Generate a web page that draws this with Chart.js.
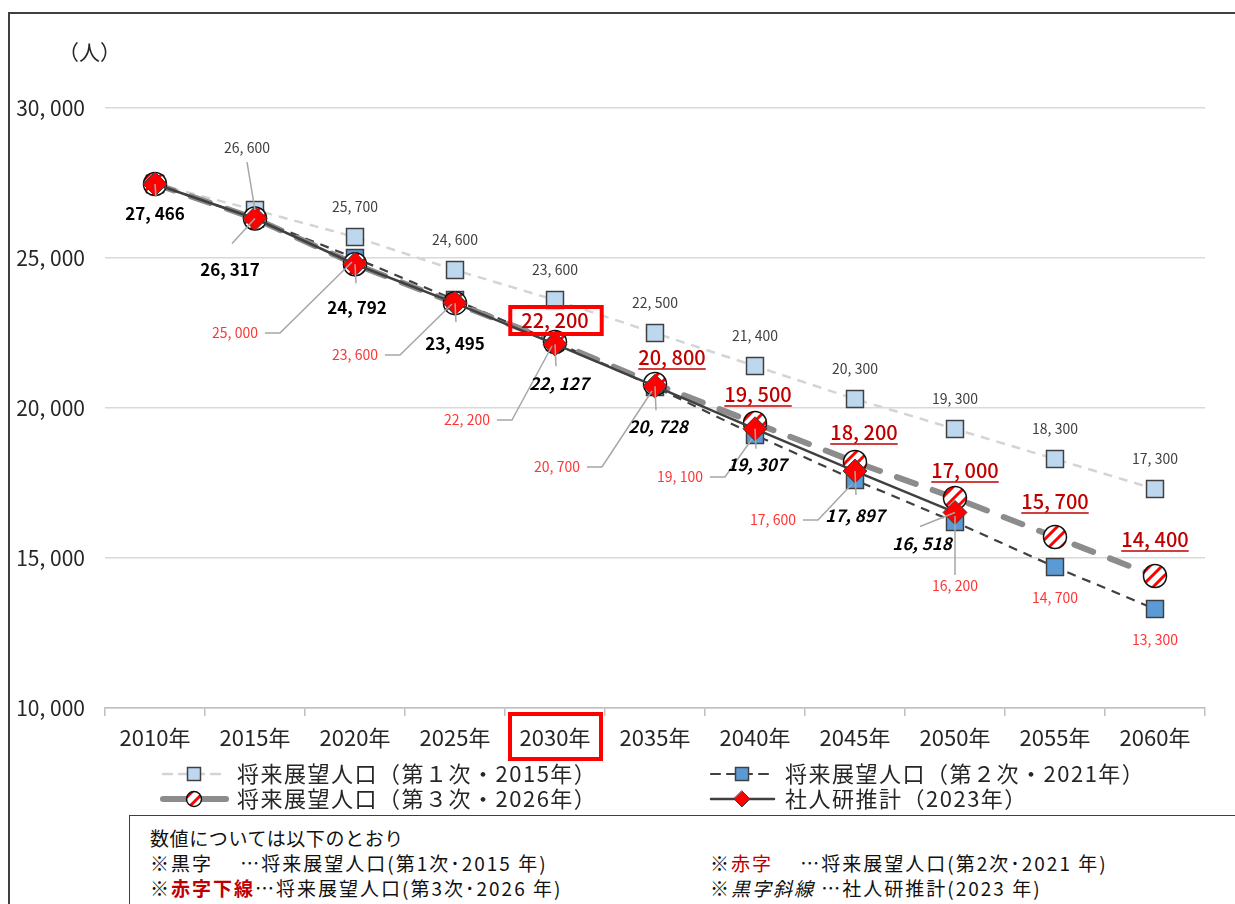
<!DOCTYPE html>
<html lang="ja">
<head>
<meta charset="utf-8">
<title>将来展望人口</title>
<script src="https://cdn.jsdelivr.net/npm/chart.js@4.4.0/dist/chart.umd.min.js"></script>
<style>
  html, body { margin: 0; padding: 0; background: #fff; }
  body { width: 1235px; height: 904px; position: relative; overflow: hidden;
         font-family: "Noto Sans CJK JP", "Noto Sans", sans-serif; }
  #frame { position: absolute; left: 8px; top: 12px; width: 1400px; height: 1000px;
           border: 2px solid #404040; box-sizing: border-box; }
  #wrap { position: absolute; left: 0; top: 0; width: 1235px; height: 904px; }
  #unit { position: absolute; left: 58px; top: 36px; font-size: 21px; color: #262626; }
  #note { position: absolute; left: 129px; top: 815px; width: 1200px; height: 200px;
          border: 1.5px solid #404040; background: #fff; font-size: 19px; color: #111;
          letter-spacing: 0.6px; }
  #note .row { position: absolute; white-space: nowrap; line-height: 24px; }
  .wide { letter-spacing: 2px; }
  .red { color: #c00000; }
  .redb { color: #c00000; font-weight: bold; }
  .it { font-style: italic; }
</style>
</head>
<body>
<div id="frame"></div>
<div id="wrap"><canvas id="popChart" width="1235" height="904"></canvas></div>
<div id="unit">（人）</div>
<div id="note">
  <div class="row" style="left:20px; top:10px;">数値については以下のとおり</div>
  <div class="row wide" style="left:20px; top:35px;">※黒字　 …将来展望人口(第1次･2015 年)</div>
  <div class="row wide" style="left:580px; top:35px;">※<span class="red">赤字</span>　 …将来展望人口(第2次･2021 年)</div>
  <div class="row wide" style="left:20px; top:60px;">※<span class="redb">赤字下線</span>…将来展望人口(第3次･2026 年)</div>
  <div class="row wide" style="left:580px; top:60px;">※<span class="it">黒字斜線</span> …社人研推計(2023 年)</div>
</div>
<script>
Chart.defaults.font.family = '"Noto Sans CJK JP", "Noto Sans", sans-serif';
Chart.defaults.color = "#262626";

// 年次
const years = ["2010年", "2015年", "2020年", "2025年", "2030年", "2035年",
               "2040年", "2045年", "2050年", "2055年", "2060年"];

// 将来展望人口（第1次・2015年）
const plan1 = [27466, 26600, 25700, 24600, 23600, 22500, 21400, 20300, 19300, 18300, 17300];
// 将来展望人口（第2次・2021年）
const plan2 = [27466, 26317, 25000, 23600, 22200, 20700, 19100, 17600, 16200, 14700, 13300];
// 将来展望人口（第3次・2026年）
const plan3 = [27466, 26317, 24792, 23495, 22200, 20800, 19500, 18200, 17000, 15700, 14400];
// 社人研推計（2023年）
const ipss = [27466, 26317, 24792, 23495, 22127, 20728, 19307, 17897, 16518, null, null];

const yTicks = [10000, 15000, 20000, 25000, 30000];

const seriesNames = [
  "将来展望人口（第１次・2015年）",
  "将来展望人口（第２次・2021年）",
  "将来展望人口（第３次・2026年）",
  "社人研推計（2023年）",
];

// ラベル位置 [dx, dy, 引出線] （点からのずれ）
const labelPos = [
  [null, [-8, -62, [-8, -48]], [0, -30], [0, -30], [0, -30], [0, -30], [0, -30],
   [0, -30], [0, -30], [0, -30], [0, -30]],
  [null, null, [-120, 75, "elbow"], [-100, 55, "elbow"], [-88, 78, "elbow"],
   [-98, 80, "elbow"], [-75, 42, "elbow"], [-82, 40, "elbow"], [0, 64, "up"],
   [0, 31], [0, 31]],
  [null, null, null, null, [0, -22, "box"], [17, -27], [3, -29], [9, -30],
   [10, -28], [0, -36], [0, -37]],
  [[0, 30, [1, 13]], [-25, 51, [-23, 25]], [2, 43, [1, 19]], [0, 40, [1, 19]],
   [4, 39, [1, 22]], [3, 40, [1, 24]], [2, 36, [1, 20]], [0, 44, [1, 24]],
   [-33, 31, [-35, 14]]],
];

const labelStyle = [
  { font: "14px 'Noto Sans CJK JP'", color: "#404040" },
  { font: "14px 'Noto Sans CJK JP'", color: "#ff3535" },
  { font: "500 20px 'Noto Sans CJK JP'", color: "#c00000", underline: true },
  { font: "bold 17px 'Noto Sans CJK JP'", color: "#000000" },
];

function fmt(v) {
  return v.toLocaleString("en-US").replace(",", ", ");
}

function stripePattern() {
  const n = 12;
  const c = document.createElement("canvas");
  c.width = n;
  c.height = n;
  const g = c.getContext("2d");
  g.fillStyle = "#ffffff";
  g.fillRect(0, 0, n, n);
  g.strokeStyle = "#ff0000";
  g.lineWidth = 3;
  g.beginPath();
  g.moveTo(-n / 2, n / 2); g.lineTo(n / 2, -n / 2);
  g.moveTo(0, n); g.lineTo(n, 0);
  g.moveTo(n / 2, n * 1.5); g.lineTo(n * 1.5, n / 2);
  g.stroke();
  return g.createPattern(c, "repeat");
}
const stripes = stripePattern();

function drawMarker(ctx, ds, x, y, small) {
  ctx.save();
  ctx.setLineDash([]);
  ctx.lineWidth = ds.pointBorderWidth;
  ctx.strokeStyle = ds.pointBorderColor;
  ctx.fillStyle = ds.pointBackgroundColor;
  ctx.beginPath();
  if (ds.pointStyle === "rect") {
    const s = small ? 6.5 : 8.5;
    ctx.rect(x - s, y - s, 2 * s, 2 * s);
  } else if (ds.pointStyle === "circle") {
    const r = small ? 7.5 : 12;
    ctx.arc(x, y, r, 0, Math.PI * 2);
  } else {
    const r = small ? 8 : 12;
    ctx.moveTo(x, y - r); ctx.lineTo(x + r, y); ctx.lineTo(x, y + r); ctx.lineTo(x - r, y);
    ctx.closePath();
  }
  ctx.fill();
  ctx.stroke();
  ctx.restore();
}

const labelsPlugin = {
  id: "pointLabels",
  afterDatasetsDraw(chart) {
    const ctx = chart.ctx;
    const xs = chart.scales.x;
    const ys = chart.scales.y;
    ctx.save();
    chart.data.datasets.forEach((ds, s) => {
      const st = labelStyle[s];
      ds.data.forEach((v, i) => {
        const pos = labelPos[s][i];
        if (v == null || !pos) return;
        const px = xs.getPixelForValue(i);
        const py = ys.getPixelForValue(v);
        const lx = px + pos[0];
        const ly = py + pos[1];
        let font = st.font;
        if (s === 3 && i >= 4) font = "italic " + font;
        ctx.font = font;
        const w = ctx.measureText(fmt(v)).width;
        // 引出線
        const lead = pos[2];
        ctx.strokeStyle = "#a6a6a6";
        ctx.lineWidth = 1.5;
        ctx.setLineDash([]);
        if (Array.isArray(lead)) {
          ctx.beginPath();
          ctx.moveTo(px + lead[0], py + lead[1]);
          ctx.lineTo(px, py);
          ctx.stroke();
        } else if (lead === "elbow") {
          const sx = lx + w / 2 + 7;
          ctx.beginPath();
          ctx.moveTo(sx, ly);
          ctx.lineTo(sx + 15, ly);
          ctx.lineTo(px - 3, py + 4);
          ctx.stroke();
        } else if (lead === "up") {
          ctx.beginPath();
          ctx.moveTo(lx, ly - 11);
          ctx.lineTo(px, py - 6);
          ctx.stroke();
        }
        ctx.fillStyle = st.color;
        ctx.textAlign = "center";
        ctx.textBaseline = "middle";
        ctx.fillText(fmt(v), lx, ly);
        if (lead === "box") {
          ctx.strokeStyle = "#ff0000";
          ctx.lineWidth = 4;
          ctx.strokeRect(lx - w / 2 - 11, ly - 13, w + 24, 27);
        } else if (st.underline) {
          ctx.strokeStyle = st.color;
          ctx.lineWidth = 1.5;
          ctx.beginPath();
          ctx.moveTo(lx - w / 2, ly + 12);
          ctx.lineTo(lx + w / 2, ly + 12);
          ctx.stroke();
        }
      });
    });
    ctx.restore();
  },
  afterDraw(chart) {
    const ctx = chart.ctx;
    const xs = chart.scales.x;
    ctx.save();
    // 2030年の枠
    const cx = xs.getPixelForValue(4);
    ctx.strokeStyle = "#ff0000";
    ctx.lineWidth = 4;
    ctx.strokeRect(cx - 45, 714, 91, 45);

    // 凡例
    const spots = [[160, 774], [708, 774], [160, 799], [708, 799]];
    chart.data.datasets.forEach((ds, s) => {
      const [x, y] = spots[s];
      ctx.strokeStyle = ds.borderColor;
      ctx.lineWidth = ds.borderWidth;
      ctx.lineCap = "round";
      ctx.setLineDash(s === 2 ? [] : ds.borderDash || []);
      ctx.beginPath();
      ctx.moveTo(x + 3, y);
      ctx.lineTo(x + 66, y);
      ctx.stroke();
      drawMarker(ctx, ds, x + 34, y, true);
      ctx.setLineDash([]);
      ctx.fillStyle = "#262626";
      ctx.font = "22px 'Noto Sans CJK JP'";
      ctx.letterSpacing = "1.5px";
      ctx.textAlign = "left";
      ctx.textBaseline = "middle";
      ctx.fillText(seriesNames[s], x + 77, y);
      ctx.letterSpacing = "0px";
    });
    ctx.restore();
  },
};

const ctx = document.getElementById("popChart").getContext("2d");

new Chart(ctx, {
  type: "line",
  data: {
    labels: years,
    datasets: [
      {
        label: seriesNames[0],
        data: plan1,
        borderColor: "#d4d4d4",
        borderWidth: 2.5,
        borderDash: [9, 7],
        pointStyle: "rect",
        pointRadius: 12,
        pointBackgroundColor: "#bdd7ee",
        pointBorderColor: "#404040",
        pointBorderWidth: 1.5,
        order: 4,
      },
      {
        label: seriesNames[1],
        data: plan2,
        borderColor: "#404040",
        borderWidth: 2.2,
        borderDash: [9, 7],
        pointStyle: "rect",
        pointRadius: 12,
        pointBackgroundColor: "#5b9bd5",
        pointBorderColor: "#404040",
        pointBorderWidth: 1.5,
        order: 3,
      },
      {
        label: seriesNames[2],
        data: plan3,
        borderColor: "#8c8c8c",
        borderWidth: 6,
        borderDash: [20, 18],
        borderCapStyle: "round",
        pointStyle: "circle",
        pointRadius: 11.5,
        pointBackgroundColor: stripes,
        pointBorderColor: "#111111",
        pointBorderWidth: 1.5,
        order: 2,
      },
      {
        label: seriesNames[3],
        data: ipss,
        borderColor: "#404040",
        borderWidth: 2.5,
        pointStyle: "rectRot",
        pointRadius: 12,
        pointBackgroundColor: "#ff0000",
        pointBorderColor: "#404040",
        pointBorderWidth: 1,
        order: 1,
      },
    ],
  },
  options: {
    responsive: false,
    animation: false,
    events: [],
    layout: { padding: { top: 108, right: 30, left: 0, bottom: 0 } },
    plugins: {
      legend: { display: false },
      tooltip: { enabled: false },
    },
    scales: {
      x: {
        offset: true,
        afterFit: (scale) => { scale.height = 196; },
        grid: {
          display: true,
          offset: true,
          drawOnChartArea: false,
          drawTicks: true,
          tickLength: 8,
          color: "#bfbfbf",
          lineWidth: 1.5,
        },
        border: { display: true, color: "#bfbfbf", width: 1.5 },
        ticks: { font: { size: 22 }, color: "#262626", padding: 8, maxRotation: 0 },
      },
      y: {
        min: 10000,
        max: 30000,
        afterFit: (scale) => { scale.width = 105; },
        afterBuildTicks: (scale) => { scale.ticks = yTicks.map((v) => ({ value: v })); },
        grid: { color: "#d9d9d9", lineWidth: 1.5, drawTicks: false },
        border: { display: false },
        ticks: {
          font: { size: 21 },
          color: "#262626",
          padding: 20,
          callback: (v) => fmt(v),
        },
      },
    },
  },
  plugins: [labelsPlugin],
});
</script>
</body>
</html>
